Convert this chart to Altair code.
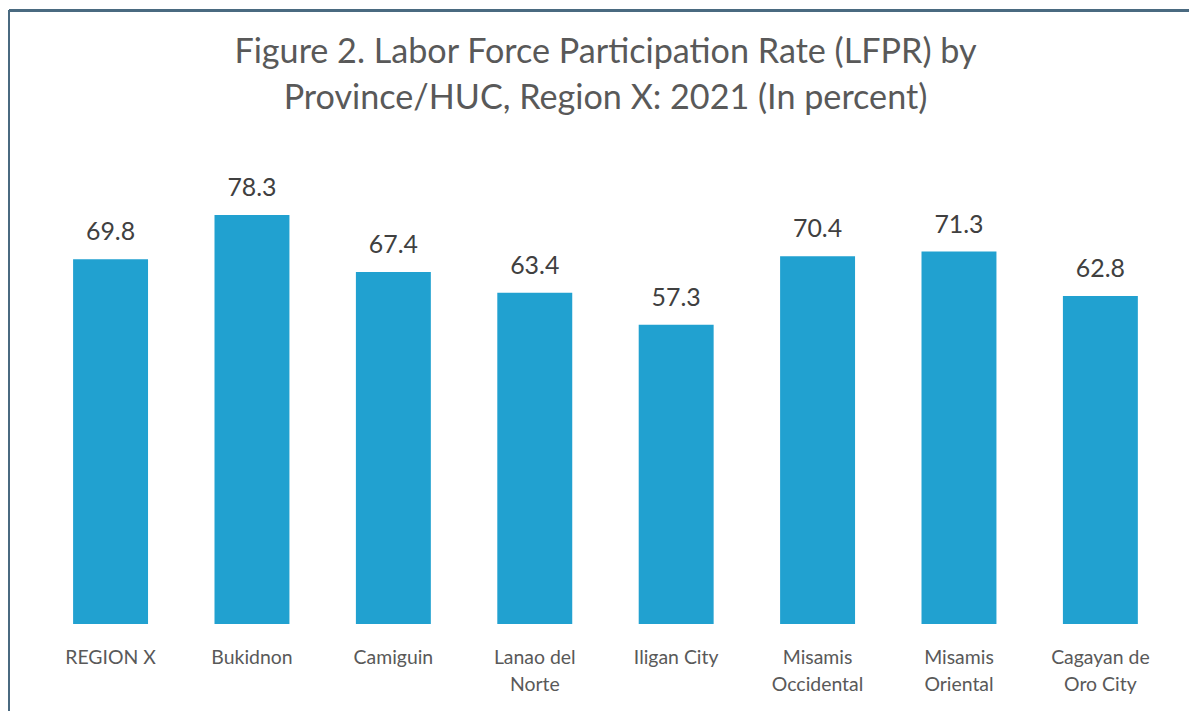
import altair as alt
import pandas as pd

categories = ["REGION X", "Bukidnon", "Camiguin", "Lanao del|Norte", "Iligan City",
              "Misamis|Occidental", "Misamis|Oriental", "Cagayan de|Oro City"]
values = [69.8, 78.3, 67.4, 63.4, 57.3, 70.4, 71.3, 62.8]

df = pd.DataFrame({"cat": categories, "val": values})
df["lab"] = df["val"].map(lambda v: f"{v:.1f}")

FONT = "Lato"

base = alt.Chart(df).encode(
    x=alt.X("cat:N", sort=categories, title=None,
            scale=alt.Scale(paddingInner=0.47, paddingOuter=0.235),
            axis=alt.Axis(labelAngle=0, ticks=False, domain=False, labelPadding=25,
                          labelExpr="split(datum.label, '|')", labelFontSize=19.5,
                          labelLineHeight=27, labelColor="#595959", labelFont=FONT,
                          labelBaseline="top")),
    y=alt.Y("val:Q", title=None, scale=alt.Scale(domain=[0, 90]), axis=None),
)

bars = base.mark_bar(color="#21a1d0")
text = base.mark_text(dy=-14, baseline="bottom", fontSize=25, color="#404040", font=FONT).encode(
    text="lab:N")

frame_left = alt.Chart(df).mark_rule(color="#4a6a80", strokeWidth=2).encode(
    x=alt.value(-31), y=alt.value(-144), y2=alt.value(560))
frame_top = alt.Chart(df).mark_rule(color="#4a6a80", strokeWidth=2).encode(
    x=alt.value(-31), x2=alt.value(1154), y=alt.value(-144))

chart = alt.layer(frame_left, frame_top, bars, text).properties(
    width=1136, height=472,
    padding={"left": 0, "top": 0, "right": 0, "bottom": 0},
    title=alt.Title(["Figure 2. Labor Force Participation Rate (LFPR) by",
                     "Province/HUC,  Region X: 2021 (In percent)"],
                    fontSize=34.3, font=FONT, fontWeight="normal", color="#595959",
                    lineHeight=46, anchor="middle", offset=-107),
).configure_view(stroke=None)

chart.save("out.html", embed_options={"renderer": "svg", "actions": False})
